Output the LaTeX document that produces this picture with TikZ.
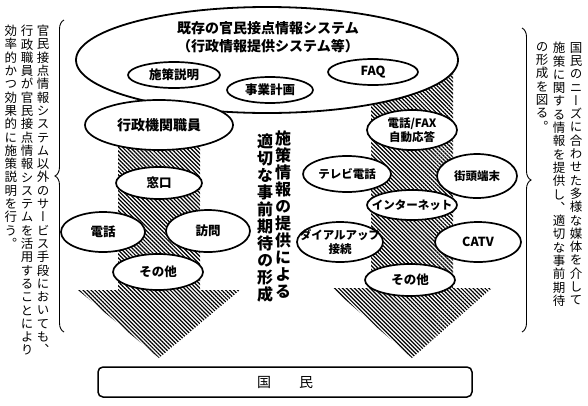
\documentclass[tikz,border=0pt]{standalone}
\usepackage{fontspec}
\usepackage{tikz}
\usetikzlibrary{shapes.geometric,patterns.meta,decorations.pathreplacing,positioning}
\newfontfamily\jp{Noto Sans CJK JP}
\newfontfamily\jpv[RawFeature=+vert]{Noto Sans CJK JP}
% one column of vertical text: #1 pitch, #2 characters
\makeatletter
\newcommand\tatecol[2]{\vbox{\baselineskip=#1\lineskiplimit=-\maxdimen\lineskip=0pt\tate@next#2\@nil}}
\def\tate@next#1#2\@nil{\hbox to 1em{\hss#1\hss}\ifx\relax#2\relax\else\tate@next#2\@nil\fi}
\makeatother
\tikzset{
  every node/.style={font=\jp},
  hatch/.style={pattern={Lines[angle=-45,distance=2.8pt,line width=1.2pt]}},
  bigoval/.style={ellipse,draw,line width=1.8pt,fill=white,inner sep=0pt},
  oval/.style={ellipse,draw,line width=1.7pt,fill=white,inner sep=0pt},
  ovaltext/.style={font=\jp\bfseries\fontsize{12.5}{14}\selectfont,align=center,inner sep=0pt},
  smalltext/.style={font=\jp\bfseries\fontsize{11.5}{14}\selectfont,align=center,inner sep=0pt},
  titletext/.style={font=\jp\bfseries\fontsize{14}{18}\selectfont,align=center,inner sep=0pt},
  sidetext/.style={font=\jpv\fontsize{12.5}{13}\selectfont,inner sep=0pt,anchor=north},
  midtext/.style={font=\jpv\bfseries\fontsize{16}{17}\selectfont,inner sep=0pt,anchor=north},
  bracepen/.style={line width=0.9pt,decorate,decoration={brace,amplitude=9pt}},
  peoplebox/.style={draw,rounded corners=5pt,line width=1.5pt,inner sep=0pt,font=\jp\fontsize{14}{16}\selectfont}
}
\begin{document}
\begin{tikzpicture}[x=1pt,y=-1pt]
\useasboundingbox (0,0) rectangle (588,405);
% hatched arrows, drawn first
\fill[hatch] (118,130) -- (200,130) -- (200,290) -- (240,290) -- (159,358) -- (78,290) -- (118,290) -- cycle;
\fill[hatch] (371,60) -- (453,60) -- (453,288) -- (492,288) -- (412,358) -- (332,288) -- (371,288) -- cycle;
% existing system
\node[bigoval,minimum width=382pt,minimum height=106pt] (system) at (267,60) {};
\node[titletext] (title) at (268,37) {既存の官民接点情報システム\\（行政情報提供システム等）};
\node[oval,minimum width=92pt,minimum height=26pt] (sesaku) at (174,75) {};
\node[oval,minimum width=86pt,minimum height=26pt] (jigyo) at (270,90) {};
\node[oval,minimum width=90pt,minimum height=26pt] (faq) at (373,72) {};
\node[ovaltext] (sesakuL) at (sesaku) {施策説明};
\node[ovaltext] (jigyoL) at (jigyo) {事業計画};
\node[ovaltext] (faqL) at (faq) {FAQ};
% left column: staff
\node[oval,minimum width=148pt,minimum height=50pt] (staff) at (159,125) {};
\node[ovaltext,font=\jp\bfseries\fontsize{14}{16}\selectfont] (staffL) at (staff) {行政機関職員};
\node[oval,minimum width=86pt,minimum height=32pt] (madoguchi) at (159,183) {};
\node[oval,minimum width=84pt,minimum height=40pt] (denwa) at (103,232) {};
\node[oval,minimum width=84pt,minimum height=42pt] (homon) at (208,231) {};
\node[oval,minimum width=90pt,minimum height=36pt] (sonotaA) at (158,272) {};
\node[ovaltext] (madoguchiL) at (madoguchi) {窓口};
\node[ovaltext] (denwaL) at (denwa) {電話};
\node[ovaltext] (homonL) at (homon) {訪問};
\node[ovaltext] (sonotaAL) at (sonotaA) {その他};
% right column: media
\node[oval,minimum width=90pt,minimum height=40pt] (fax) at (412,130) {};
\node[oval,minimum width=88pt,minimum height=36pt] (tvphone) at (347,174) {};
\node[oval,minimum width=80pt,minimum height=44pt] (kiosk) at (477,176) {};
\node[oval,minimum width=90pt,minimum height=30pt] (internet) at (412,205) {};
\node[oval,minimum width=86pt,minimum height=40pt] (dialup) at (340,242) {};
\node[oval,minimum width=86pt,minimum height=40pt] (catv) at (478,242) {};
\node[oval,minimum width=90pt,minimum height=32pt] (sonotaB) at (410,280) {};
\node[smalltext] (faxL) at (fax) {電話/FAX\\自動応答};
\node[smalltext] (tvphoneL) at (tvphone) {テレビ電話};
\node[smalltext] (kioskL) at (kiosk) {街頭端末};
\node[smalltext] (internetL) at (internet) {インターネット};
\node[smalltext] (dialupL) at (dialup) {ダイアルアップ\\接続};
\node[ovaltext] (catvL) at (catv) {CATV};
\node[ovaltext] (sonotaBL) at (sonotaB) {その他};
% middle vertical text
\node[midtext] (midA) at (283,131) {\tatecol{17pt}{施策情報の提供による}};
\node[midtext] (midB) at (265,134) {\tatecol{17pt}{適切な事前期待の形成}};
% side notes and braces
\node[sidetext] (leftA) at (43,25) {\tatecol{13.3pt}{官民接点情報システム以外のサービス手段においても、}};
\node[sidetext] (leftB) at (27,25) {\tatecol{13.3pt}{行政職員が官民接点情報システムを活用することにより}};
\node[sidetext] (leftC) at (11,25) {\tatecol{13.3pt}{効率的かつ効果的に施策説明を行う。}};
\node[sidetext] (rightA) at (576,42) {\tatecol{13.3pt}{国民のニーズに合わせた多様な媒体を介して}};
\node[sidetext] (rightB) at (559,42) {\tatecol{13.3pt}{施策に関する情報を提供し、適切な事前期待}};
\node[sidetext] (rightC) at (542,42) {\tatecol{13.3pt}{の形成を図る。}};
\coordinate (lbraceTop) at (64,20);
\coordinate (lbraceBot) at (64,332);
\coordinate (rbraceTop) at (522,28);
\coordinate (rbraceBot) at (522,332);
\draw[bracepen] (lbraceBot) -- (lbraceTop);
\draw[bracepen] (rbraceTop) -- (rbraceBot);
% the people
\node[peoplebox,minimum width=374pt,minimum height=30pt] (kokumin) at (285,382) {国\hspace{2em}民};
\end{tikzpicture}
\end{document}
